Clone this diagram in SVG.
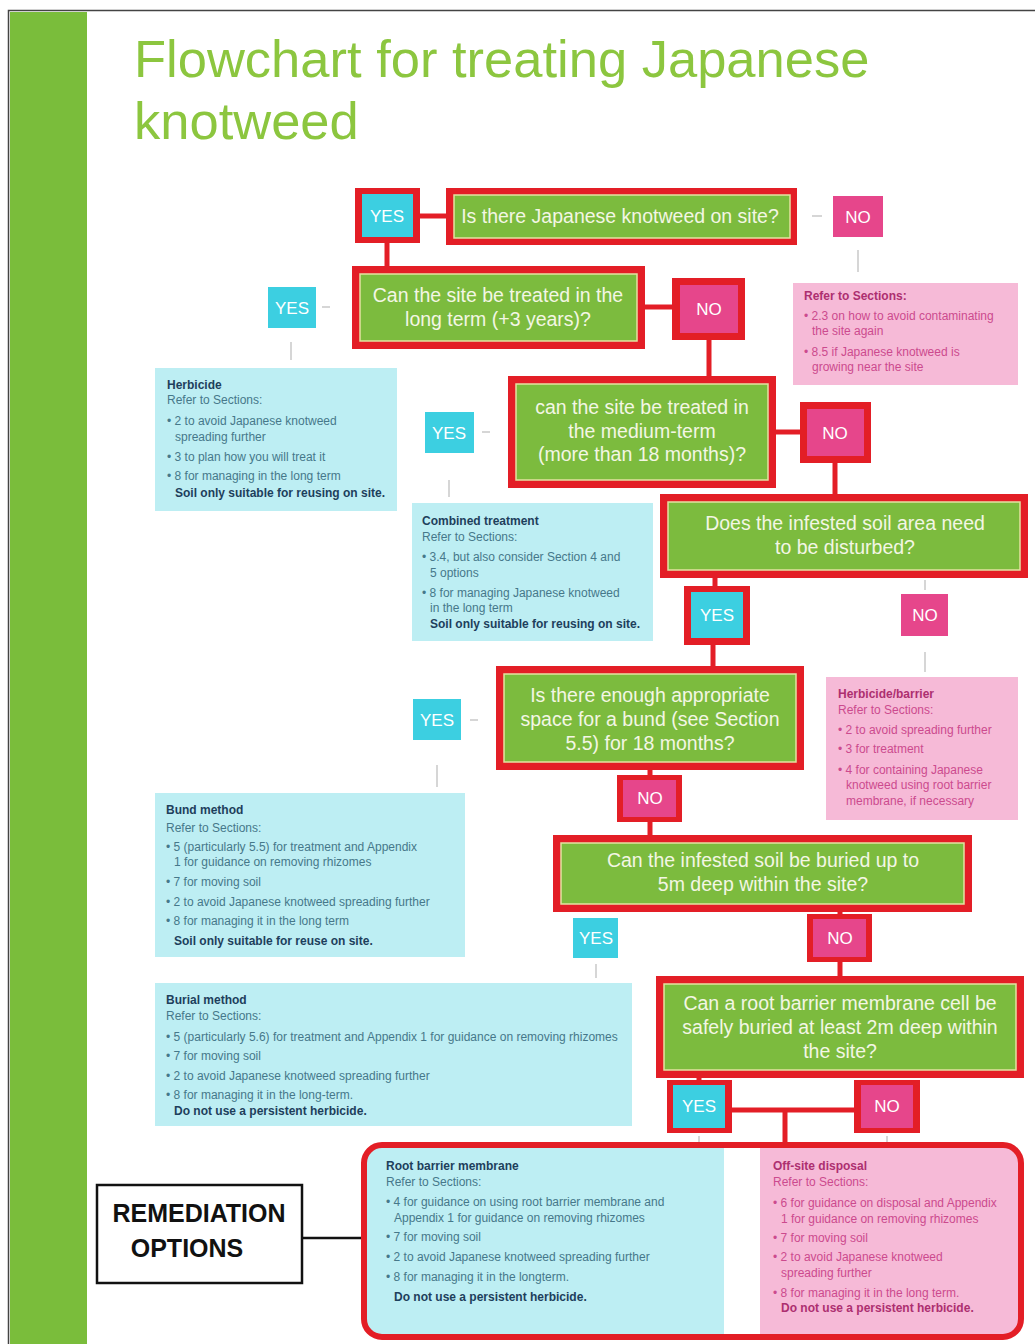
<svg xmlns="http://www.w3.org/2000/svg" width="1035" height="1344" viewBox="0 0 1035 1344">
<defs>
<style>
.red{fill:#e31e26}
.grn{fill:#7cbb3e;stroke:#e4e2a2;stroke-width:1.5}
.yes{fill:#3ccfe1}
.no{fill:#e6468b}
.q{font-family:"Liberation Sans",Arial,sans-serif;font-size:19.5px;fill:#f3f6e4;text-anchor:middle}
.lbl{font-family:"Liberation Sans",Arial,sans-serif;font-size:17px;fill:#ffffff;text-anchor:middle}
.ic{fill:#bdeef3}
.ip{fill:#f6bad7}
.tc{font-family:"Liberation Sans",Arial,sans-serif;font-size:12px;fill:#46788a}
.tcb{font-family:"Liberation Sans",Arial,sans-serif;font-size:12px;font-weight:bold;fill:#1e3f5c}
.tp{font-family:"Liberation Sans",Arial,sans-serif;font-size:12px;fill:#cc4a8e}
.tpb{font-family:"Liberation Sans",Arial,sans-serif;font-size:12px;font-weight:bold;fill:#ad2f70}
.rl{stroke:#e31e26;stroke-width:5;fill:none}
.gl{stroke:#c8c8c8;stroke-width:1.5;fill:none}
</style>
<clipPath id="remclip"><rect x="364" y="1145" width="657" height="192" rx="18"/></clipPath>
</defs>

<rect x="0" y="0" width="1035" height="1344" fill="#ffffff"/>
<rect x="8.5" y="10.5" width="1035" height="1340" fill="none" stroke="#444" stroke-width="1.5"/>
<rect x="10" y="12" width="77" height="1332" fill="#7abd3b"/>

<g id="title" font-family="'Liberation Sans',Arial,sans-serif" font-size="52.5" fill="#8cc63f">
<text x="134" y="77">Flowchart for treating Japanese</text>
<text x="134" y="139">knotweed</text>
</g>

<g id="connectors">
<line class="rl" x1="420" y1="216" x2="446" y2="216"/>
<line class="rl" x1="387" y1="243" x2="387" y2="266"/>
<line class="rl" x1="645" y1="307" x2="672" y2="307"/>
<line class="rl" x1="709" y1="340" x2="709" y2="376"/>
<line class="rl" x1="776" y1="432" x2="800" y2="432"/>
<line class="rl" x1="835" y1="463" x2="835" y2="494"/>
<line class="rl" x1="715" y1="578" x2="715" y2="586"/>
<line class="rl" x1="713" y1="645" x2="713" y2="666"/>
<line class="rl" x1="650" y1="770" x2="650" y2="775"/>
<line class="rl" x1="650" y1="822" x2="650" y2="835"/>
<line class="rl" x1="840" y1="912" x2="840" y2="914"/>
<line class="rl" x1="840" y1="962" x2="840" y2="976"/>
<line class="rl" x1="699" y1="1078" x2="699" y2="1080"/>
<line class="rl" x1="732" y1="1110" x2="854" y2="1110"/>
<line class="rl" x1="785" y1="1110" x2="785" y2="1145"/>
<line x1="302" y1="1238" x2="364" y2="1238" stroke="#111" stroke-width="2.5"/>
<line class="gl" x1="812" y1="216" x2="822" y2="216"/>
<line class="gl" x1="858" y1="250" x2="858" y2="272"/>
<line class="gl" x1="322" y1="307" x2="330" y2="307"/>
<line class="gl" x1="291" y1="342" x2="291" y2="360"/>
<line class="gl" x1="482" y1="432" x2="490" y2="432"/>
<line class="gl" x1="449" y1="480" x2="449" y2="497"/>
<line class="gl" x1="925" y1="580" x2="925" y2="590"/>
<line class="gl" x1="925" y1="652" x2="925" y2="672"/>
<line class="gl" x1="470" y1="720" x2="478" y2="720"/>
<line class="gl" x1="437" y1="765" x2="437" y2="787"/>
<line class="gl" x1="596" y1="964" x2="596" y2="978"/>
<line class="gl" x1="699" y1="1136" x2="699" y2="1142"/>
<line class="gl" x1="887" y1="1136" x2="887" y2="1142"/>
</g>

<g id="q1">
<rect class="red" x="446" y="188" width="351" height="57"/>
<rect class="grn" x="454" y="195" width="336" height="43"/>
<text class="q" x="620" y="223">Is there Japanese knotweed on site?</text>
</g>
<g id="yes1">
<rect class="red" x="355" y="188" width="65" height="55"/>
<rect class="yes" x="362" y="194" width="51" height="43"/>
<text class="lbl" x="387" y="222">YES</text>
</g>
<g id="no1">
<rect class="no" x="833" y="196" width="50" height="41"/>
<text class="lbl" x="858" y="223">NO</text>
</g>
<g id="info-refer">
<rect class="ip" x="793" y="283" width="225" height="102"/>
<text class="tpb" x="804" y="300">Refer to Sections:</text>
<text class="tp" x="804" y="320">• 2.3 on how to avoid contaminating</text>
<text class="tp" x="812" y="335">the site again</text>
<text class="tp" x="804" y="356">• 8.5 if Japanese knotweed is</text>
<text class="tp" x="812" y="371">growing near the site</text>
</g>

<g id="q2">
<rect class="red" x="352" y="266" width="293" height="83"/>
<rect class="grn" x="360" y="274" width="277" height="67"/>
<text class="q" x="498" y="302">Can the site be treated in the</text>
<text class="q" x="498" y="326">long term (+3 years)?</text>
</g>
<g id="yes2">
<rect class="yes" x="268" y="287" width="48" height="41"/>
<text class="lbl" x="292" y="314">YES</text>
</g>
<g id="no2">
<rect class="red" x="672" y="278" width="73" height="62"/>
<rect class="no" x="680" y="285" width="58" height="48"/>
<text class="lbl" x="709" y="315">NO</text>
</g>
<g id="info-herbicide">
<rect class="ic" x="155" y="368" width="242" height="143"/>
<text class="tcb" x="167" y="389">Herbicide</text>
<text class="tc" x="167" y="404">Refer to Sections:</text>
<text class="tc" x="167" y="425">• 2 to avoid Japanese knotweed</text>
<text class="tc" x="175" y="441">spreading further</text>
<text class="tc" x="167" y="461">• 3 to plan how you will treat it</text>
<text class="tc" x="167" y="480">• 8 for managing in the long term</text>
<text class="tcb" x="175" y="497">Soil only suitable for reusing on site.</text>
</g>

<g id="q3">
<rect class="red" x="508" y="376" width="268" height="112"/>
<rect class="grn" x="516" y="384" width="252" height="96"/>
<text class="q" x="642" y="414">can the site be treated in</text>
<text class="q" x="642" y="438">the medium-term</text>
<text class="q" x="642" y="461">(more than 18 months)?</text>
</g>
<g id="yes3">
<rect class="yes" x="425" y="412" width="49" height="41"/>
<text class="lbl" x="449" y="439">YES</text>
</g>
<g id="no3">
<rect class="red" x="800" y="402" width="71" height="61"/>
<rect class="no" x="807" y="409" width="57" height="47"/>
<text class="lbl" x="835" y="439">NO</text>
</g>
<g id="info-combined">
<rect class="ic" x="412" y="503" width="241" height="138"/>
<text class="tcb" x="422" y="525">Combined treatment</text>
<text class="tc" x="422" y="541">Refer to Sections:</text>
<text class="tc" x="422" y="561">• 3.4, but also consider Section 4 and</text>
<text class="tc" x="430" y="577">5 options</text>
<text class="tc" x="422" y="597">• 8 for managing Japanese knotweed</text>
<text class="tc" x="430" y="612">in the long term</text>
<text class="tcb" x="430" y="628">Soil only suitable for reusing on site.</text>
</g>

<g id="q4">
<rect class="red" x="660" y="494" width="368" height="84"/>
<rect class="grn" x="668" y="502" width="352" height="68"/>
<text class="q" x="845" y="530">Does the infested soil area need</text>
<text class="q" x="845" y="554">to be disturbed?</text>
</g>
<g id="yes4">
<rect class="red" x="684" y="586" width="66" height="59"/>
<rect class="yes" x="691" y="592" width="52" height="46"/>
<text class="lbl" x="717" y="621">YES</text>
</g>
<g id="no4">
<rect class="no" x="901" y="594" width="47" height="42"/>
<text class="lbl" x="925" y="621">NO</text>
</g>
<g id="info-herbicide-barrier">
<rect class="ip" x="826" y="677" width="192" height="143"/>
<text class="tpb" x="838" y="698">Herbicide/barrier</text>
<text class="tp" x="838" y="714">Refer to Sections:</text>
<text class="tp" x="838" y="734">• 2 to avoid spreading further</text>
<text class="tp" x="838" y="753">• 3 for treatment</text>
<text class="tp" x="838" y="774">• 4 for containing Japanese</text>
<text class="tp" x="846" y="789">knotweed using root barrier</text>
<text class="tp" x="846" y="805">membrane, if necessary</text>
</g>

<g id="q5">
<rect class="red" x="496" y="666" width="308" height="104"/>
<rect class="grn" x="504" y="674" width="292" height="88"/>
<text class="q" x="650" y="702">Is there enough appropriate</text>
<text class="q" x="650" y="726">space for a bund (see Section</text>
<text class="q" x="650" y="750">5.5) for 18 months?</text>
</g>
<g id="yes5">
<rect class="yes" x="413" y="699" width="48" height="41"/>
<text class="lbl" x="437" y="726">YES</text>
</g>
<g id="no5">
<rect class="red" x="617" y="775" width="65" height="47"/>
<rect class="no" x="623" y="780" width="53" height="37"/>
<text class="lbl" x="650" y="804">NO</text>
</g>
<g id="info-bund">
<rect class="ic" x="155" y="793" width="310" height="164"/>
<text class="tcb" x="166" y="814">Bund method</text>
<text class="tc" x="166" y="832">Refer to Sections:</text>
<text class="tc" x="166" y="851">• 5 (particularly 5.5) for treatment and Appendix</text>
<text class="tc" x="174" y="866">1 for guidance on removing rhizomes</text>
<text class="tc" x="166" y="886">• 7 for moving soil</text>
<text class="tc" x="166" y="906">• 2 to avoid Japanese knotweed spreading further</text>
<text class="tc" x="166" y="925">• 8 for managing it in the long term</text>
<text class="tcb" x="174" y="945">Soil only suitable for reuse on site.</text>
</g>

<g id="q6">
<rect class="red" x="553" y="835" width="419" height="77"/>
<rect class="grn" x="561" y="843" width="403" height="61"/>
<text class="q" x="763" y="867">Can the infested soil be buried up to</text>
<text class="q" x="763" y="891">5m deep within the site?</text>
</g>
<g id="yes6">
<rect class="yes" x="573" y="918" width="45" height="40"/>
<text class="lbl" x="596" y="944">YES</text>
</g>
<g id="no6">
<rect class="red" x="807" y="914" width="65" height="48"/>
<rect class="no" x="813" y="919" width="53" height="38"/>
<text class="lbl" x="840" y="944">NO</text>
</g>
<g id="info-burial">
<rect class="ic" x="155" y="983" width="477" height="143"/>
<text class="tcb" x="166" y="1004">Burial method</text>
<text class="tc" x="166" y="1020">Refer to Sections:</text>
<text class="tc" x="166" y="1041">• 5 (particularly 5.6) for treatment and Appendix 1 for guidance on removing rhizomes</text>
<text class="tc" x="166" y="1060">• 7 for moving soil</text>
<text class="tc" x="166" y="1080">• 2 to avoid Japanese knotweed spreading further</text>
<text class="tc" x="166" y="1099">• 8 for managing it in the long-term.</text>
<text class="tcb" x="174" y="1115">Do not use a persistent herbicide.</text>
</g>

<g id="q7">
<rect class="red" x="656" y="976" width="368" height="102"/>
<rect class="grn" x="664" y="984" width="352" height="86"/>
<text class="q" x="840" y="1010">Can a root barrier membrane cell be</text>
<text class="q" x="840" y="1034">safely buried at least 2m deep within</text>
<text class="q" x="840" y="1058">the site?</text>
</g>
<g id="yes7">
<rect class="red" x="667" y="1080" width="65" height="53"/>
<rect class="yes" x="673" y="1085" width="52" height="43"/>
<text class="lbl" x="699" y="1112">YES</text>
</g>
<g id="no7">
<rect class="red" x="854" y="1080" width="66" height="53"/>
<rect class="no" x="861" y="1085" width="52" height="43"/>
<text class="lbl" x="887" y="1112">NO</text>
</g>

<g id="remediation">
<rect x="364" y="1145" width="657" height="192" rx="18" fill="#ffffff"/>
<g clip-path="url(#remclip)">
<rect class="ic" x="364" y="1145" width="360" height="192"/>
<rect class="ip" x="760" y="1145" width="261" height="192"/>
</g>
<rect x="364" y="1145" width="657" height="192" rx="18" fill="none" stroke="#e31e26" stroke-width="6"/>
<text class="tcb" x="386" y="1170">Root barrier membrane</text>
<text class="tc" x="386" y="1186">Refer to Sections:</text>
<text class="tc" x="386" y="1206">• 4 for guidance on using root barrier membrane and</text>
<text class="tc" x="394" y="1222">Appendix 1 for guidance on removing rhizomes</text>
<text class="tc" x="386" y="1241">• 7 for moving soil</text>
<text class="tc" x="386" y="1261">• 2 to avoid Japanese knotweed spreading further</text>
<text class="tc" x="386" y="1281">• 8 for managing it in the longterm.</text>
<text class="tcb" x="394" y="1301">Do not use a persistent herbicide.</text>
<text class="tpb" x="773" y="1170">Off-site disposal</text>
<text class="tp" x="773" y="1186">Refer to Sections:</text>
<text class="tp" x="773" y="1207">• 6 for guidance on disposal and Appendix</text>
<text class="tp" x="781" y="1223">1 for guidance on removing rhizomes</text>
<text class="tp" x="773" y="1242">• 7 for moving soil</text>
<text class="tp" x="773" y="1261">• 2 to avoid Japanese knotweed</text>
<text class="tp" x="781" y="1277">spreading further</text>
<text class="tp" x="773" y="1297">• 8 for managing it in the long term.</text>
<text class="tpb" x="781" y="1312">Do not use a persistent herbicide.</text>
</g>

<g id="remediation-options">
<rect x="97" y="1185" width="205" height="98" fill="#ffffff" stroke="#111" stroke-width="2.5"/>
<text x="199" y="1222" font-family="'Liberation Sans',Arial,sans-serif" font-size="25" font-weight="bold" fill="#111" text-anchor="middle">REMEDIATION</text>
<text x="187" y="1257" font-family="'Liberation Sans',Arial,sans-serif" font-size="25" font-weight="bold" fill="#111" text-anchor="middle">OPTIONS</text>
</g>
</svg>
